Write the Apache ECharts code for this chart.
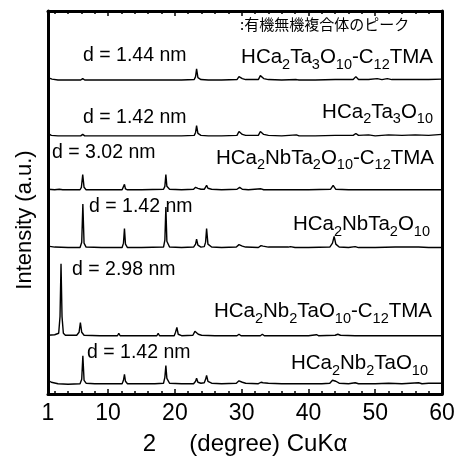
<!DOCTYPE html>
<html><head><meta charset="utf-8">
<script src="https://cdn.jsdelivr.net/npm/echarts@6/dist/echarts.min.js"></script>
<style>html,body{margin:0;padding:0;background:#fff}#c{width:459px;height:461px}</style>
</head><body><div id="c"></div>
<script>
// ---- axis ticks / labels ----
const xTickLabels = [1, 10, 20, 30, 40, 50, 60];
const majorTicks = [10, 20, 30, 40, 50];
const minorTicks = [2, 4, 6, 8, 12, 14, 16, 18, 22, 24, 26, 28, 32, 34, 36, 38, 42, 44, 46, 48, 52, 54, 56, 58];

// ---- traces (2θ, intensity a.u. relative to own baseline), top to bottom ----
const traceNames = ['HCa2Ta3O10-C12TMA', 'HCa2Ta3O10', 'HCa2NbTa2O10-C12TMA', 'HCa2NbTa2O10', 'HCa2Nb2TaO10-C12TMA', 'HCa2Nb2TaO10'];
const traceOffsets = [320, 263, 208, 149, 59, 10];

const ta3TMA = [[1,3],[1.6,1.5],[2.5,0.5],[5.9,0.5],[6.2,2],[6.5,0.5],[9,0.5],[12.3,0.5],[12.5,1.5],[12.7,0.5],[15,0.5],[18.4,0.5],[18.6,2],[18.8,0.5],[21,0.5],[22.9,1],[23.1,4],[23.25,12],[23.45,3],[23.9,1],[25,0.5],[27,0.5],[29.3,1],[29.6,4],[29.8,5],[30.1,2],[30.6,1],[32.5,1],[32.8,5],[33,6],[33.3,2],[34,1],[36,0.5],[38.2,1],[38.6,0.5],[41,0.5],[44,1],[46.7,1],[47.1,4],[47.5,1],[49,1],[50.3,2],[51,1],[51.8,2],[52.5,1],[54,1],[56,1],[58,1],[60,1.5]];
const ta3 = [[1,3],[1.5,1],[2.5,0.5],[5.9,0.5],[6.2,2],[6.5,0.5],[9,0.5],[12.3,0.5],[12.5,1.5],[12.7,0.5],[15,0.5],[18.4,0.5],[18.6,2],[18.8,0.5],[21,0.5],[22.9,1],[23.1,4],[23.25,11],[23.45,3],[23.9,1],[25,0.5],[27,0.5],[29.3,1],[29.6,5],[29.8,6],[30.1,2],[30.6,1],[32.5,1],[32.8,5],[33,6],[33.3,2],[34,1],[36,0.5],[38.2,1.5],[38.6,0.5],[41,0.5],[44,1],[46.7,1],[47.1,3],[47.5,1],[49,1.5],[50,0.5],[52,1.5],[54,1],[56,1.5],[58,1],[60,2]];
const nbTa2TMA = [[1,1],[2,0.5],[2.7,1],[2.92,3],[3.2,0.5],[5.8,0.5],[6.0,3],[6.2,16],[6.4,3],[6.7,0.5],[9,0.5],[12.1,0.5],[12.3,2],[12.45,6],[12.6,1.5],[12.9,0.5],[15,0.5],[18.3,1],[18.5,4],[18.65,16],[18.8,4],[19.2,1],[21,0.5],[22.8,1],[23.1,3],[23.25,5],[23.45,2],[23.9,1],[24.4,1],[24.6,3],[24.75,5],[24.95,2],[25.5,1],[27,0.5],[29.3,1],[29.7,3],[30.1,1],[31,0.5],[32.9,1.5],[33.3,0.5],[36,0.5],[40,0.5],[43.3,1],[43.7,5],[44.1,1],[46,0.5],[50,0.5],[55,0.5],[60,0.5]];
const nbTa2 = [[1,2],[2,1],[4,0.5],[5.8,0.5],[6.05,6],[6.22,45],[6.4,5],[6.7,1],[9,0.5],[12.1,0.5],[12.3,5],[12.45,20],[12.6,4],[12.9,0.5],[15,0.5],[18.3,1],[18.5,8],[18.65,42],[18.8,7],[19.2,1],[21,0.5],[22.8,1],[23.1,4],[23.25,9],[23.45,3],[23.9,1],[24.4,1.5],[24.6,6],[24.75,20],[24.95,4],[25.5,1],[27,0.5],[29.2,1],[29.6,3.5],[29.8,4],[30.1,2],[30.6,1],[32.5,0.5],[32.9,2.5],[33.2,2],[34,1],[37,1],[37.3,1.5],[38,0.5],[40,0.5],[43.2,1],[43.6,5],[43.85,12],[44.1,4],[44.6,1],[46,0.5],[47,1.5],[47.5,0.5],[50,0.5],[53,1],[56.5,1],[58,0.5],[60,0.5]];
const nb2TaTMA = [[1,1],[2,1.5],[2.6,3],[2.8,20],[2.95,74],[3.1,20],[3.3,3],[3.6,1],[5.3,1],[5.65,4],[5.85,14],[6.05,4],[6.4,1],[8.8,0.5],[9,1.5],[9.2,0.5],[11.4,0.5],[11.6,3],[11.8,0.5],[14,0.5],[17.3,0.5],[17.5,3],[17.7,0.5],[19.9,0.5],[20.1,4],[20.3,9],[20.5,2],[21,0.5],[22.7,1],[23.0,5],[23.2,6],[23.5,2],[24,1],[26,0.5],[29.3,0.5],[29.6,2],[29.9,0.5],[32.8,0.5],[33.1,2],[33.4,0.5],[36,0.5],[40,0.5],[41.2,1.5],[41.5,0.5],[44,1],[44.4,2],[44.8,1],[47,0.5],[50,0.5],[55,0.5],[60,0.5]];
const nb2Ta = [[1,4],[1.5,2],[2.5,0.5],[4,0],[5.8,0.5],[6.05,5],[6.22,29],[6.4,4],[6.7,1],[8,0.5],[10,0.5],[12.1,0.5],[12.3,4],[12.45,10],[12.6,3],[12.9,0.5],[15,0.5],[17,0.5],[18.3,1],[18.5,7],[18.65,19],[18.8,6],[19.2,1],[21,0.5],[22.8,0.5],[23.1,3],[23.25,6],[23.45,2],[23.9,1],[24.4,1.5],[24.6,5],[24.75,9],[24.95,3],[25.5,1],[27,0.5],[29.2,1],[29.6,3.5],[29.8,4],[30.1,2],[30.6,1],[32.5,0.5],[32.9,2],[33.2,1.5],[34,1],[36,0.5],[38,0.5],[40,0.5],[42,0.5],[43.2,1],[43.6,4],[43.8,6],[44.1,3],[44.6,1],[46,0.5],[47,1.5],[47.5,0.5],[50,0.5],[52,1],[54,0.5],[56.5,1.5],[57,0.5],[58,1],[60,1]];
const traces = [ta3TMA, ta3, nbTa2TMA, nbTa2, nb2TaTMA, nb2Ta];

// ---- annotation texts ----
const dLabels = ['d = 1.44 nm', 'd = 1.42 nm', 'd = 3.02 nm', 'd = 1.42 nm', 'd = 2.98 nm', 'd = 1.42 nm'];
const formulaLabels = ['HCa{s|2}Ta{s|3}O{s|10}-C{s|12}TMA', 'HCa{s|2}Ta{s|3}O{s|10}', 'HCa{s|2}NbTa{s|2}O{s|10}-C{s|12}TMA', 'HCa{s|2}NbTa{s|2}O{s|10}', 'HCa{s|2}Nb{s|2}TaO{s|10}-C{s|12}TMA', 'HCa{s|2}Nb{s|2}TaO{s|10}'];
const legendNote = ':有機無機複合体のピーク';
const xAxisTitle = '2     (degree) CuKα';
const yAxisTitle = 'Intensity (a.u.)';

// annotation anchors in data coordinates [2θ, y]
const dLabelAnchors = [[6.24,345],[6.24,282],[1.6,246],[7.14,191],[4.6,127],[6.84,42]];
const formulaAnchors = [[58.65,344],[58.65,288],[58.8,241],[58.2,173],[58.5,84],[57.9,31]];
const noteAnchor = [29.75,377];

const FONT = "'Liberation Sans', Arial, Helvetica, sans-serif";
const chart = echarts.init(document.getElementById('c'), null, {renderer:'canvas'});

const tickAxis = (pos, ticks, len, showLine) => ({
  type:'value', position:pos, min:1, max:60,
  axisLine:{show:showLine, onZero:false, lineStyle:{color:'#000', width:3}},
  axisTick:{show:true, inside:true, length:len, customValues:ticks, lineStyle:{color:'#000', width:1.5}},
  axisLabel:{show:false}, splitLine:{show:false}
});

const option = {
  animation:false,
  backgroundColor:'#fff',
  grid:{left:48, right:17, top:11, bottom:59, containLabel:false},
  xAxis:[
    {type:'value', position:'bottom', min:1, max:60,
     name:xAxisTitle, nameLocation:'middle', nameGap:38,
     nameTextStyle:{fontFamily:FONT, fontSize:24, color:'#000'},
     axisLine:{show:true, onZero:false, lineStyle:{color:'#000', width:3}},
     axisTick:{show:true, inside:true, length:5, customValues:majorTicks, lineStyle:{color:'#000', width:1.5}},
     axisLabel:{show:true, customValues:xTickLabels, margin:8, fontFamily:FONT, fontSize:23, color:'#000'},
     splitLine:{show:false}},
    tickAxis('bottom', minorTicks, 3, false),
    tickAxis('top', majorTicks, 5, true),
    tickAxis('top', minorTicks, 3, false)
  ],
  yAxis:[
    {type:'value', position:'left', min:0, max:391, axisLine:{show:true, onZero:false, lineStyle:{color:'#000', width:3}}, axisTick:{show:false}, axisLabel:{show:false}, splitLine:{show:false}},
    {type:'value', position:'right', min:0, max:391, axisLine:{show:true, onZero:false, lineStyle:{color:'#000', width:3}}, axisTick:{show:false}, axisLabel:{show:false}, splitLine:{show:false}}
  ],
  series: traces.map((t, i) => ({
    type:'line', name:traceNames[i], xAxisIndex:0, yAxisIndex:0,
    symbol:'none', silent:true,
    lineStyle:{color:'#000', width:1.4},
    data: t.map(p => [p[0], p[1] + traceOffsets[i]])
  }))
};
chart.setOption(option);

const toPx = a => chart.convertToPixel({xAxisIndex:0, yAxisIndex:0}, a);
const graphics = [];
dLabels.forEach((s, i) => {
  const p = toPx(dLabelAnchors[i]);
  graphics.push({type:'text', x:p[0], y:p[1], z:10, style:{text:s, fontFamily:FONT, fontSize:19.5, fill:'#000', align:'left', verticalAlign:'middle'}});
});
formulaLabels.forEach((s, i) => {
  const p = toPx(formulaAnchors[i]);
  graphics.push({type:'text', x:p[0], y:p[1], z:10, style:{text:s, fontFamily:FONT, fontSize:20.5, lineHeight:29, fill:'#000', align:'right', verticalAlign:'middle',
    rich:{s:{fontFamily:FONT, fontSize:14.5, lineHeight:14, padding:[15,0,0,0], fill:'#000'}}}});
});
const np = toPx(noteAnchor);
graphics.push({type:'text', x:np[0], y:np[1], z:10, style:{text:legendNote, fontFamily:"'Noto Sans CJK JP', sans-serif", fontSize:15, fill:'#000', align:'left', verticalAlign:'middle'}});
graphics.push({type:'text', x:25, y:220, rotation:Math.PI/2, z:10, style:{text:yAxisTitle, fontFamily:FONT, fontSize:22, fill:'#000', align:'center', verticalAlign:'middle'}});
chart.setOption({graphic:graphics});
</script>
</body></html>
